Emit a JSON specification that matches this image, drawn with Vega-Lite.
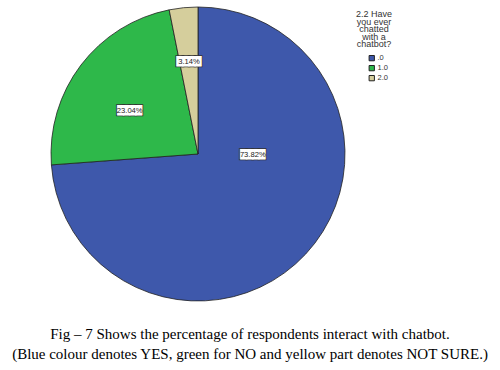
{
  "$schema": "https://vega.github.io/schema/vega-lite/v6.json",
  "autosize": "none",
  "width": 396,
  "height": 308,
  "padding": {"left": 0, "top": 0, "right": 104, "bottom": 62},
  "background": "white",
  "data": {"values": [
    {"cat": ".0", "value": 73.82, "label": "73.82%"},
    {"cat": "1.0", "value": 23.04, "label": "23.04%"},
    {"cat": "2.0", "value": 3.14, "label": "3.14%"}
  ]},
  "title": {
    "text": ["Fig – 7 Shows the percentage of respondents interact with chatbot.", "(Blue colour denotes YES, green for NO and yellow part denotes NOT SURE.)"],
    "orient": "bottom",
    "anchor": "middle",
    "frame": "group",
    "dx": 52,
    "offset": 19,
    "baseline": "top",
    "font": "Liberation Serif",
    "fontSize": 15,
    "fontWeight": "normal",
    "color": "#000000",
    "lineHeight": 20
  },
  "encoding": {
    "theta": {"field": "value", "type": "quantitative", "stack": true},
    "order": {"field": "cat", "type": "nominal"}
  },
  "layer": [
    {
      "mark": {"type": "arc", "outerRadius": 147, "stroke": "#222222", "strokeWidth": 0.8},
      "encoding": {
        "color": {
          "field": "cat", "type": "nominal",
          "scale": {"domain": [".0", "1.0", "2.0"], "range": ["#3E58AB", "#2EB84A", "#D5CE9C"]},
          "legend": {
            "title": ["2.2 Have", "you ever", "chatted", "with a", "chatbot?"],
            "orient": "none",
            "legendX": 356,
            "legendY": 10,
            "titleFont": "Liberation Sans",
            "titleFontSize": 9,
            "titleFontWeight": "normal",
            "titleColor": "#333333",
            "titleLineHeight": 7.6,
            "titleAlign": "center",
            "titleAnchor": "middle",
            "titlePadding": 5,
            "labelFont": "Liberation Sans",
            "labelFontSize": 7.5,
            "labelColor": "#333333",
            "labelOffset": 2,
            "symbolType": "square",
            "symbolSize": 28,
            "symbolStrokeColor": "#222222",
            "symbolStrokeWidth": 1,
            "symbolOffset": 8,
            "rowPadding": 0
          }
        }
      }
    },
    {
      "mark": {
        "type": "text", "font": "DejaVu Sans", "fontSize": 8, "text": "████",
        "fill": "#333333", "stroke": "#333333", "strokeWidth": 2.6,
        "align": "center", "baseline": "middle",
        "radius": {"expr": "datum.cat === '.0' ? 57 : datum.cat === '1.0' ? 82 : 92"},
        "dx": {"expr": "datum.cat === '.0' ? 13 : datum.cat === '1.0' ? -3 : 0"},
        "dy": {"expr": "datum.cat === '.0' ? -38 : datum.cat === '1.0' ? 7 : 0"}
      },
      "encoding": {"detail": {"field": "cat", "type": "nominal"}}
    },
    {
      "mark": {
        "type": "text", "font": "DejaVu Sans", "fontSize": 8, "text": "████",
        "fill": "#ffffff", "stroke": "#ffffff", "strokeWidth": 0.8,
        "align": "center", "baseline": "middle",
        "radius": {"expr": "datum.cat === '.0' ? 57 : datum.cat === '1.0' ? 82 : 92"},
        "dx": {"expr": "datum.cat === '.0' ? 13 : datum.cat === '1.0' ? -3 : 0"},
        "dy": {"expr": "datum.cat === '.0' ? -38 : datum.cat === '1.0' ? 7 : 0"}
      },
      "encoding": {"detail": {"field": "cat", "type": "nominal"}}
    },
    {
      "mark": {
        "type": "text", "font": "Liberation Sans", "fontSize": 7.6, "fill": "#222222",
        "align": "center", "baseline": "middle",
        "radius": {"expr": "datum.cat === '.0' ? 57 : datum.cat === '1.0' ? 82 : 92"},
        "dx": {"expr": "datum.cat === '.0' ? 13 : datum.cat === '1.0' ? -3 : 0"},
        "dy": {"expr": "datum.cat === '.0' ? -38 : datum.cat === '1.0' ? 7 : 0"}
      },
      "encoding": {
        "detail": {"field": "cat", "type": "nominal"},
        "text": {"field": "label", "type": "nominal"}
      }
    }
  ],
  "config": {"view": {"stroke": null}}
}
